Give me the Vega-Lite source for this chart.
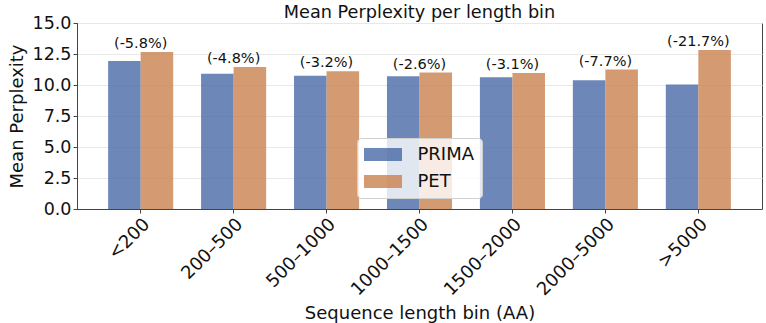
{
  "$schema": "https://vega.github.io/schema/vega-lite/v6.json",
  "width": 685,
  "height": 186,
  "autosize": {"type": "none"},
  "padding": {"left": 77, "top": 23, "right": 4, "bottom": 114},
  "background": "white",
  "title": {"text": "Mean Perplexity per length bin", "fontSize": 17.7, "font": "DejaVu Sans", "fontWeight": "normal", "color": "#111", "offset": -8},
  "config": {
    "font": "DejaVu Sans",
    "view": {"stroke": "#444", "strokeWidth": 1},
    "axis": {"labelFont": "DejaVu Sans", "titleFont": "DejaVu Sans", "labelColor": "#111", "titleColor": "#111", "titleFontWeight": "normal", "domainColor": "#444", "tickColor": "#444"}
  },
  "datasets": {
    "bars": [
      {"bin": "<200", "model": "PRIMA", "ppl": 11.93},
      {"bin": "<200", "model": "PET", "ppl": 12.66},
      {"bin": "200–500", "model": "PRIMA", "ppl": 10.9},
      {"bin": "200–500", "model": "PET", "ppl": 11.45},
      {"bin": "500–1000", "model": "PRIMA", "ppl": 10.74},
      {"bin": "500–1000", "model": "PET", "ppl": 11.1},
      {"bin": "1000–1500", "model": "PRIMA", "ppl": 10.71},
      {"bin": "1000–1500", "model": "PET", "ppl": 11.0},
      {"bin": "1500–2000", "model": "PRIMA", "ppl": 10.63},
      {"bin": "1500–2000", "model": "PET", "ppl": 10.97},
      {"bin": "2000–5000", "model": "PRIMA", "ppl": 10.38},
      {"bin": "2000–5000", "model": "PET", "ppl": 11.25},
      {"bin": ">5000", "model": "PRIMA", "ppl": 10.05},
      {"bin": ">5000", "model": "PET", "ppl": 12.83}
    ],
    "labels": [
      {"bin": "<200", "top": 12.66, "label": "(-5.8%)"},
      {"bin": "200–500", "top": 11.45, "label": "(-4.8%)"},
      {"bin": "500–1000", "top": 11.1, "label": "(-3.2%)"},
      {"bin": "1000–1500", "top": 11.0, "label": "(-2.6%)"},
      {"bin": "1500–2000", "top": 10.97, "label": "(-3.1%)"},
      {"bin": "2000–5000", "top": 11.25, "label": "(-7.7%)"},
      {"bin": ">5000", "top": 12.83, "label": "(-21.7%)"}
    ]
  },
  "layer": [
    {
      "data": {"name": "bars"},
      "mark": {"type": "bar", "opacity": 0.8},
      "encoding": {
        "x": {
          "field": "bin", "type": "nominal",
          "sort": ["<200", "200–500", "500–1000", "1000–1500", "1500–2000", "2000–5000", ">5000"],
          "scale": {"paddingInner": 0.3, "paddingOuter": 0.335},
          "axis": {"title": "Sequence length bin (AA)", "titleFontSize": 18, "labelFontSize": 18, "labelAngle": -45, "labelAlign": "right", "labelBaseline": "top", "tickSize": 4, "labelPadding": 2, "titlePadding": 6, "grid": false}
        },
        "xOffset": {"field": "model", "type": "nominal", "sort": ["PRIMA", "PET"]},
        "y": {
          "field": "ppl", "type": "quantitative",
          "scale": {"domain": [0, 15], "nice": false},
          "axis": {"title": "Mean Perplexity", "titleFontSize": 18, "labelFontSize": 17.5, "labelOverlap": false, "values": [0, 2.5, 5, 7.5, 10, 12.5, 15], "format": ".1f", "tickSize": 4, "labelPadding": 2, "titlePadding": 6, "gridColor": "#e8e8e8", "gridWidth": 1}
        },
        "color": {
          "field": "model", "type": "nominal",
          "sort": ["PRIMA", "PET"],
          "scale": {"domain": ["PRIMA", "PET"], "range": ["#4769a6", "#c9814f"]},
          "legend": {
            "title": null, "orient": "none", "legendX": 280, "legendY": 115,
            "labelFontSize": 18, "labelColor": "#111",
            "symbolType": "M-2,-0.68H2V0.68H-2Z", "symbolSize": 361, "symbolOpacity": 0.8, "symbolStrokeWidth": 0,
            "symbolOffset": 9.5, "labelOffset": 25,
            "padding": 7, "rowPadding": 8,
            "fillColor": "rgba(255,255,255,0.8)", "strokeColor": "#d0d0d0", "cornerRadius": 4
          }
        }
      }
    },
    {
      "data": {"name": "labels"},
      "mark": {"type": "text", "fontSize": 14.5, "baseline": "bottom", "dy": -1, "color": "#111"},
      "encoding": {
        "x": {"field": "bin", "type": "nominal", "sort": ["<200", "200–500", "500–1000", "1000–1500", "1500–2000", "2000–5000", ">5000"],
          "axis": {"title": "Sequence length bin (AA)", "titleFontSize": 18, "labelFontSize": 18, "labelAngle": -45, "labelAlign": "right", "labelBaseline": "top", "tickSize": 4, "labelPadding": 2, "titlePadding": 6, "grid": false}},
        "y": {"field": "top", "type": "quantitative",
          "axis": {"title": "Mean Perplexity", "titleFontSize": 18, "labelFontSize": 17.5, "labelOverlap": false, "values": [0, 2.5, 5, 7.5, 10, 12.5, 15], "format": ".1f", "tickSize": 4, "labelPadding": 2, "titlePadding": 6, "gridColor": "#e8e8e8", "gridWidth": 1}},
        "text": {"field": "label"}
      }
    }
  ]
}
